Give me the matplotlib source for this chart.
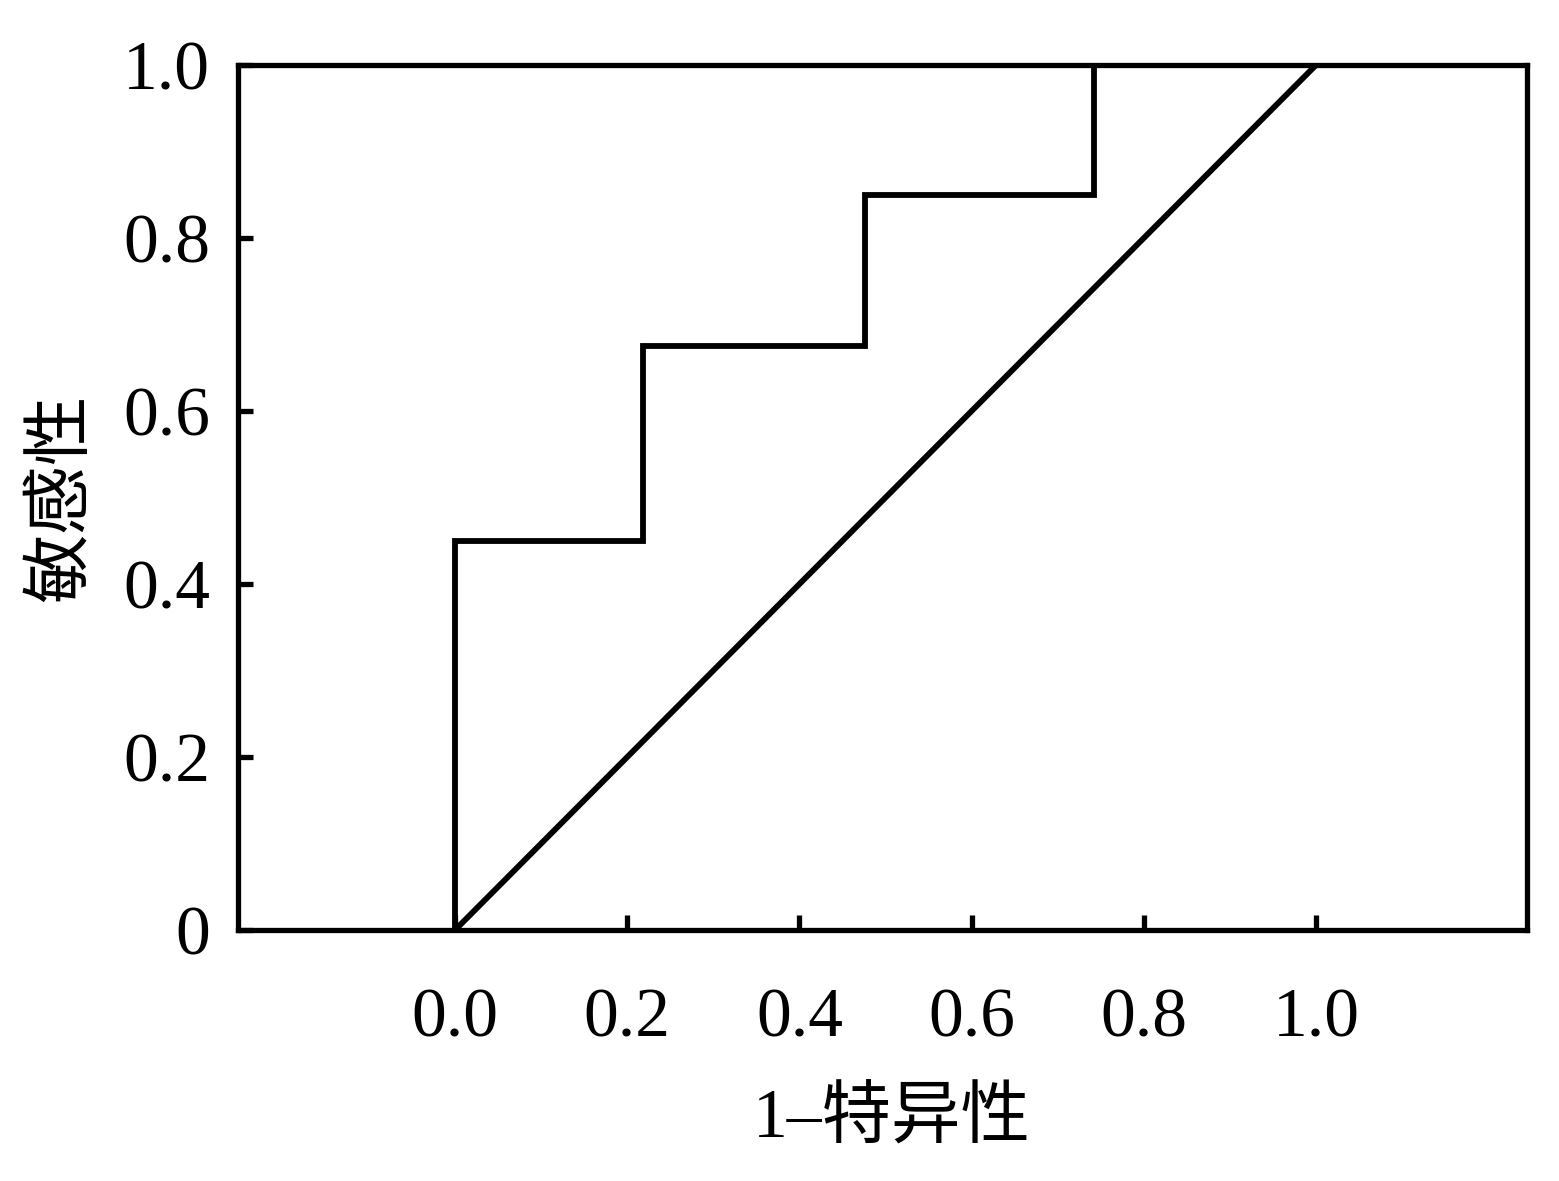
import matplotlib
matplotlib.use('Agg')
import matplotlib.pyplot as plt

plt.rcParams['font.family'] = ['Liberation Serif', 'Noto Sans CJK SC']

# ROC curve points (1-specificity, sensitivity)
fpr = [0.0, 0.0, 0.218, 0.218, 0.476, 0.476, 0.742, 0.742]
tpr = [0.0, 0.45, 0.45, 0.675, 0.675, 0.85, 0.85, 1.0]
ref_x = [0.0, 1.0]
ref_y = [0.0, 1.0]

xticks = [0.0, 0.2, 0.4, 0.6, 0.8, 1.0]
xticklabels = ['0.0', '0.2', '0.4', '0.6', '0.8', '1.0']
yticks = [0.0, 0.2, 0.4, 0.6, 0.8, 1.0]
yticklabels = ['0', '0.2', '0.4', '0.6', '0.8', '1.0']

fig = plt.figure(figsize=(15.59, 11.81), dpi=100)
ax = fig.add_axes([0.1527, 0.2125, 0.8268, 0.7325])

ax.plot(fpr, tpr, color='black', lw=4.2, solid_joinstyle='miter')
ax.plot(ref_x, ref_y, color='black', lw=4.2)

ax.set_xlim(-0.252, 1.245)
ax.set_ylim(0, 1.0)
ax.set_xticks(xticks)
ax.set_xticklabels(xticklabels)
ax.set_yticks(yticks)
ax.set_yticklabels(yticklabels)

for s in ax.spines.values():
    s.set_linewidth(3.8)
ax.tick_params(direction='in', length=11, width=3.8, labelsize=50)
ax.tick_params(axis='x', pad=42)
ax.tick_params(axis='y', pad=20)

ax.set_xlabel('1–特异性', fontsize=50)
ax.set_ylabel('敏感性', fontsize=50)
ax.xaxis.set_label_coords(0.507, -0.183)
ax.yaxis.set_label_coords(-0.111, 0.5)

fig.savefig('out.png', dpi=100)
